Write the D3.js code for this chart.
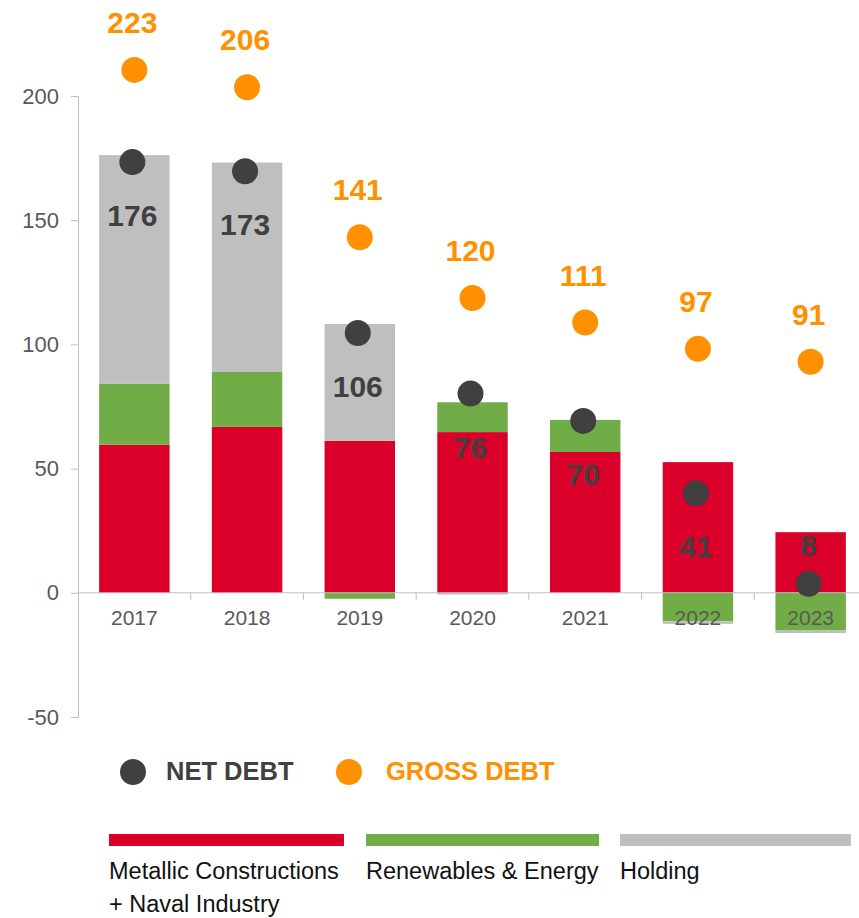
<!DOCTYPE html>
<html>
<head>
<meta charset="utf-8">
<script src="https://cdn.jsdelivr.net/npm/d3@7"></script>
<style>
  html, body { margin: 0; padding: 0; background: #fff; }
  svg { display: block; font-family: "Liberation Sans", Arial, sans-serif; }
</style>
</head>
<body>
<svg id="chart" width="859" height="918"></svg>
<script>
"use strict";

// categories
const years = ['2017', '2018', '2019', '2020', '2021', '2022', '2023'];

// stacked segments (M EUR)
const metallic   = [59.6, 66.8, 61.2, 64.7, 56.7, 52.6, 24.4];
const renewables = [24.5, 22.1, -2.4, 12.0, 12.9, -11.5, -15.2];
const holding    = [92.1, 84.3, 47.0, -0.7, 0, -1.0, -1.0];

// markers and their printed labels
const netDebt         = [173.4, 169.7, 104.6, 80.2, 69.2, 40.1, 3.6];
const netDebtLabels   = ['176', '173', '106', '76', '70', '41', '8'];
const grossDebt       = [210.5, 203.5, 143.1, 118.7, 108.8, 98.2, 93.0];
const grossDebtLabels = ['223', '206', '141', '120', '111', '97', '91'];

// y ticks
const yTicks = [-50, 0, 50, 100, 150, 200];

const segments = [
  { key: 'metallic',   name: ['Metallic Constructions', '+ Naval Industry'], color: '#DA0029' },
  { key: 'renewables', name: ['Renewables & Energy'], color: '#70AD47' },
  { key: 'holding',    name: ['Holding'], color: '#BFBFBF' }
];

const DARK = '#404040', ORANGE = '#FF9100', AXIS = '#BFBFBF', TICKTXT = '#595959';

const table = years.map((y, i) => ({
  year: y,
  metallic: metallic[i],
  renewables: renewables[i],
  holding: holding[i]
}));

const svg = d3.select('#chart');

// scales
const x = d3.scaleBand()
  .domain(years)
  .range([78, 867])
  .paddingInner(0.375)
  .paddingOuter(0.1875);

const y = d3.scaleLinear()
  .domain([-50, 200])
  .range([717, 96]);

// stacked bars
const series = d3.stack()
  .keys(segments.map(s => s.key))
  .offset(d3.stackOffsetDiverging)(table);

svg.append('g')
  .selectAll('g')
  .data(series)
  .join('g')
    .attr('fill', (d, i) => segments[i].color)
  .selectAll('rect')
  .data(d => d)
  .join('rect')
    .attr('x', d => x(d.data.year))
    .attr('y', d => y(Math.max(d[0], d[1])))
    .attr('width', x.bandwidth())
    .attr('height', d => Math.abs(y(d[0]) - y(d[1])));

// y axis
const yAxis = svg.append('g')
  .attr('transform', 'translate(78,0)')
  .call(d3.axisLeft(y).tickValues(yTicks).tickFormat(d => String(d))
    .tickSize(7).tickSizeOuter(0).tickPadding(12));
yAxis.select('.domain').attr('stroke', AXIS);
yAxis.selectAll('.tick line').attr('stroke', AXIS);
yAxis.selectAll('.tick text')
  .attr('fill', TICKTXT)
  .attr('font-size', 22)
  .attr('font-family', '"Liberation Sans", Arial, sans-serif');

// x axis (line at zero, ticks between categories)
const xAxis = svg.append('g')
  .attr('transform', `translate(0,${y(0)})`)
  .call(d3.axisBottom(x).tickSize(0).tickPadding(17));
xAxis.select('.domain').remove();
xAxis.append('line')
  .attr('x1', 78).attr('x2', 859)
  .attr('stroke', AXIS);
const gap = (x.step() - x.bandwidth()) / 2;
xAxis.selectAll('.sep')
  .data(years.slice(0, -1))
  .join('line')
    .attr('class', 'sep')
    .attr('x1', d => x(d) + x.bandwidth() + gap)
    .attr('x2', d => x(d) + x.bandwidth() + gap)
    .attr('y1', 0).attr('y2', 7)
    .attr('stroke', AXIS);
xAxis.selectAll('.tick text')
  .attr('fill', TICKTXT)
  .attr('font-size', 21)
  .attr('font-family', '"Liberation Sans", Arial, sans-serif');

const cx = i => x(years[i]) + x.bandwidth() / 2;

// gross debt markers
const gross = svg.append('g');
gross.selectAll('circle')
  .data(grossDebt)
  .join('circle')
    .attr('cx', (d, i) => cx(i))
    .attr('cy', d => y(d))
    .attr('r', 13)
    .attr('fill', ORANGE);
gross.selectAll('text')
  .data(grossDebtLabels)
  .join('text')
    .attr('x', (d, i) => cx(i) - 2)
    .attr('y', (d, i) => y(grossDebt[i]) - 37)
    .attr('text-anchor', 'middle')
    .attr('font-size', 30)
    .attr('font-weight', 'bold')
    .attr('fill', ORANGE)
    .text(d => d);

// net debt markers
const net = svg.append('g');
net.selectAll('circle')
  .data(netDebt)
  .join('circle')
    .attr('cx', (d, i) => cx(i) - 2)
    .attr('cy', d => y(d))
    .attr('r', 13)
    .attr('fill', DARK);
net.selectAll('text')
  .data(netDebtLabels)
  .join('text')
    .attr('x', (d, i) => cx(i) - 2)
    .attr('y', (d, i) => netDebt[i] < 20 ? y(netDebt[i]) - 28 : y(netDebt[i]) + 64)
    .attr('text-anchor', 'middle')
    .attr('font-size', 30)
    .attr('font-weight', 'bold')
    .attr('fill', DARK)
    .text(d => d);

// legend: markers
const markerLegend = [
  { label: 'NET DEBT', color: DARK, cx: 133, tx: 166 },
  { label: 'GROSS DEBT', color: ORANGE, cx: 349, tx: 386 }
];
const ml = svg.append('g').selectAll('g').data(markerLegend).join('g');
ml.append('circle')
  .attr('cx', d => d.cx).attr('cy', 772).attr('r', 13)
  .attr('fill', d => d.color);
ml.append('text')
  .attr('x', d => d.tx).attr('y', 780)
  .attr('font-size', 25.5).attr('font-weight', 'bold')
  .attr('fill', d => d.color)
  .text(d => d.label);

// legend: segments
const segX = [109, 366, 620], segW = [235, 233, 231];
const sl = svg.append('g').selectAll('g').data(segments).join('g')
  .attr('transform', (d, i) => `translate(${segX[i]},0)`);
sl.append('rect')
  .attr('x', 0).attr('y', 834).attr('width', (d, i) => segW[i]).attr('height', 12)
  .attr('fill', d => d.color);
sl.append('text')
  .attr('font-size', 23.5)
  .attr('fill', '#111')
  .selectAll('tspan')
  .data(d => d.name)
  .join('tspan')
    .attr('x', 0)
    .attr('y', (d, i) => 879 + i * 33)
    .text(d => d);
</script>
</body>
</html>
